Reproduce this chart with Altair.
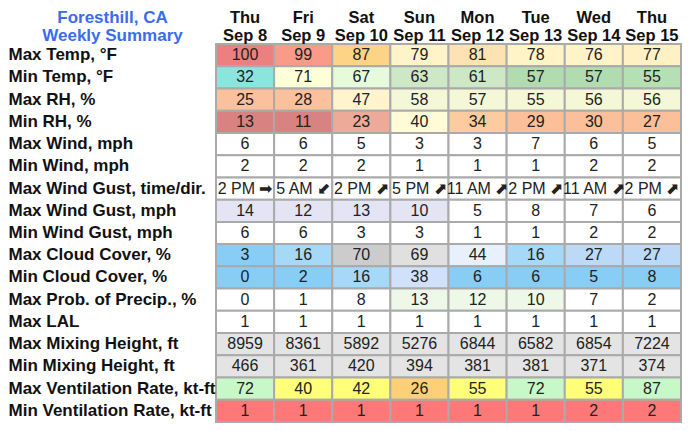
import altair as alt
import pandas as pd

weekdays = ["Thu", "Fri", "Sat", "Sun", "Mon", "Tue", "Wed", "Thu"]
dates = ["Sep 8", "Sep 9", "Sep 10", "Sep 11", "Sep 12", "Sep 13", "Sep 14", "Sep 15"]

row_labels = [
    "Max Temp, °F", "Min Temp, °F", "Max RH, %", "Min RH, %",
    "Max Wind, mph", "Min Wind, mph", "Max Wind Gust, time/dir.",
    "Max Wind Gust, mph", "Min Wind Gust, mph", "Max Cloud Cover, %",
    "Min Cloud Cover, %", "Max Prob. of Precip., %", "Max LAL",
    "Max Mixing Height, ft", "Min Mixing Height, ft",
    "Max Ventilation Rate, kt-ft", "Min Ventilation Rate, kt-ft",
]

max_temp = [100, 99, 87, 79, 81, 78, 76, 77]
min_temp = [32, 71, 67, 63, 61, 57, 57, 55]
max_rh = [25, 28, 47, 58, 57, 55, 56, 56]
min_rh = [13, 11, 23, 40, 34, 29, 30, 27]
max_wind = [6, 6, 5, 3, 3, 7, 6, 5]
min_wind = [2, 2, 2, 1, 1, 1, 2, 2]
gust_time = ["2 PM", "5 AM", "2 PM", "5 PM", "11 AM", "2 PM", "11 AM", "2 PM"]
gust_dir = ["➡", "⬋", "⬈", "⬈", "⬈", "⬈", "⬈", "⬈"]
max_gust = [14, 12, 13, 10, 5, 8, 7, 6]
min_gust = [6, 6, 3, 3, 1, 1, 2, 2]
max_cloud = [3, 16, 70, 69, 44, 16, 27, 27]
min_cloud = [0, 2, 16, 38, 6, 6, 5, 8]
max_pop = [0, 1, 8, 13, 12, 10, 7, 2]
max_lal = [1, 1, 1, 1, 1, 1, 1, 1]
max_mix = [8959, 8361, 5892, 5276, 6844, 6582, 6854, 7224]
min_mix = [466, 361, 420, 394, 381, 381, 371, 374]
max_vent = [72, 40, 42, 26, 55, 72, 55, 87]
min_vent = [1, 1, 1, 1, 1, 1, 2, 2]

# cell fill colours (style), one list per row
W = "#ffffff"
fills = [
    ["#ec8080", "#fa9a88", "#fdd486", "#fff4c9", "#fde3b4", "#fff3c8", "#fff3c8", "#fff1c4"],
    ["#8ce4de", "#ffffd8", "#e6fbdc", "#cce8c4", "#cce8c4", "#b0dcb0", "#b0dcb0", "#b4e0b4"],
    ["#fbc09c", "#fbc09c", "#fff4cc", "#f4f8d6", "#f4f8d6", "#f4f8d6", "#f4f8d6", "#f4f8d6"],
    ["#d98282", "#d98282", "#eeaa98", "#fffbd6", "#fccba0", "#fbc09a", "#fbc09a", "#fbc09a"],
    [W] * 8,
    [W] * 8,
    [W] * 8,
    ["#e4e4f4", "#e4e4f4", "#e4e4f4", "#e4e4f4", W, W, W, W],
    [W] * 8,
    ["#88cdf5", "#a6d9f8", "#cccccc", "#e0e0e0", "#e8f0fc", "#a6d9f8", "#bcd9f8", "#bcd9f8"],
    ["#88cdf5", "#88cdf5", "#a6d9f8", "#d0e2fb", "#88cdf5", "#88cdf5", "#88cdf5", "#88cdf5"],
    [W, W, W, "#eef8e8", "#eef8e8", "#eef8e8", W, W],
    [W] * 8,
    ["#e4e4e4"] * 8,
    ["#e4e4e4"] * 8,
    ["#c8f8c8", "#ffff7a", "#ffff7a", "#fdd078", "#ffff7a", "#c8f8c8", "#ffff7a", "#c8f8c8"],
    ["#ff7878"] * 8,
]

gust_text = [f"{t} {d}" for t, d in zip(gust_time, gust_dir)]
row_values = [
    max_temp, min_temp, max_rh, min_rh, max_wind, min_wind, gust_text,
    max_gust, min_gust, max_cloud, min_cloud, max_pop, max_lal,
    max_mix, min_mix, max_vent, min_vent,
]

day_keys = [f"{w}|{d}" for w, d in zip(weekdays, dates)]

records = []
for label, vals, cols in zip(row_labels, row_values, fills):
    for day, v, c in zip(day_keys, vals, cols):
        records.append({"row": label, "day": day, "text": str(v), "fill": c})
df = pd.DataFrame(records)

FONT = "Liberation Sans"

x_enc = alt.X(
    "day:N",
    sort=day_keys,
    scale=alt.Scale(paddingInner=0, paddingOuter=0),
    axis=alt.Axis(
        orient="top", title=None, ticks=False, domain=False, labelAngle=0,
        labelExpr="split(datum.value, '|')", labelFont=FONT, labelFontSize=16.5,
        labelFontWeight="bold", labelColor="#111111", labelLineHeight=18,
        labelBaseline="alphabetic", labelPadding=22, labelOverlap=False,
    ),
)
y_enc = alt.Y(
    "row:N",
    sort=row_labels,
    scale=alt.Scale(paddingInner=0, paddingOuter=0),
    axis=alt.Axis(
        orient="left", ticks=False, tickSize=0, domain=False, labelAlign="left",
        labelPadding=208, labelLimit=0, labelFont=FONT, labelFontSize=17,
        labelFontWeight="bold", labelColor="#111111",
        title=["Foresthill, CA", "Weekly Summary"], titleAngle=0,
        titleX=-104, titleY=-22, titleAlign="center", titleBaseline="alphabetic",
        titleFont=FONT, titleFontSize=17, titleFontWeight="bold",
        titleColor="#3a6cf0", titleLineHeight=18,
    ),
)

base = alt.Chart(df)
cells = base.mark_rect(stroke="#aaaaaa", strokeWidth=2).encode(
    x=x_enc, y=y_enc, fill=alt.Fill("fill:N", scale=None)
)
labels = base.mark_text(font=FONT, fontSize=16, color="#222222").encode(
    x=x_enc, y=y_enc, text="text:N"
)

chart = (
    alt.layer(cells, labels)
    .properties(
        width=465, height=378, background="white",
        autosize=alt.AutoSizeParams(type="none"),
        padding={"left": 208, "top": 36, "right": 1, "bottom": 1},
    )
    .configure_view(stroke=None)
)

chart.save("out.html", embed_options={"renderer": "svg", "actions": False})
